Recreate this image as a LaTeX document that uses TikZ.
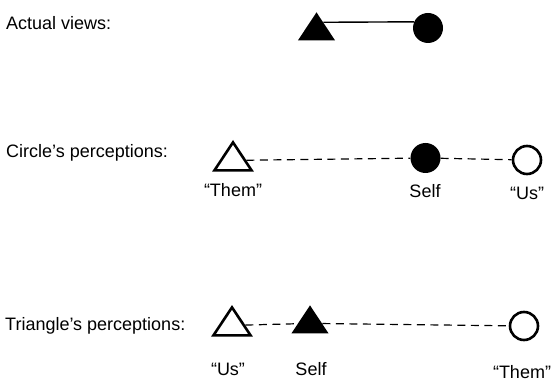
\documentclass[tikz,border=0pt]{standalone}
\usepackage{fontspec}
\setmainfont{Liberation Sans}
\usetikzlibrary{shapes.geometric,calc}

\tikzset{
  tri/.style={isosceles triangle, shape border rotate=90,
    isosceles triangle apex angle=67, inner sep=0pt, minimum size=28pt, anchor=apex},
  fulltri/.style={tri, fill=black},
  hollowtri/.style={tri, draw=black, line width=2.6pt},
  dot/.style={circle, inner sep=0pt},
  fulldot/.style={dot, fill=black, minimum size=30pt},
  hollowdot/.style={dot, draw=black, line width=2.6pt, minimum size=28pt},
  rowlabel/.style={anchor=base west, inner sep=0pt},
  tag/.style={anchor=base, inner sep=0pt},
  dashline/.style={line width=1.2pt, dash pattern=on 8pt off 5.5pt}
}

\begin{document}
\begin{tikzpicture}[x=1pt,y=-1pt,font=\fontsize{18}{21}\selectfont]
\useasboundingbox (0,0) rectangle (554,379);
% actual views
\node[rowlabel] (avlab) at (6,30) {Actual views:};
\node[fulltri] (avtri) at (316.5,12) {};
\node[fulldot] (avdot) at (428,28) {};
\draw[line width=1.4pt] ($(avtri.apex)!0.36!(avtri.right corner)$) -- (avdot.156);
% circle's perceptions
\node[rowlabel] (cplab) at (6,158) {Circle's perceptions:};
\node[hollowtri] (cpthem) at (233,140) {};
\node[fulldot] (cpself) at (425.5,158) {};
\node[hollowdot] (cpus) at (527,160) {};
\draw[dashline] (cpthem) -- (cpself) -- (cpus);
\node[tag] (cpthemlab) at (233,197) {“Them”};
\node[tag] (cpselflab) at (425,198) {Self};
\node[tag] (cpuslab) at (527,200) {“Us”};
% triangle's perceptions
\node[rowlabel] (tplab) at (5,330) {Triangle's perceptions:};
\node[hollowtri] (tpus) at (232,305) {};
\node[fulltri] (tpself) at (310,305) {};
\node[hollowdot] (tpthem) at (524,326) {};
\draw[dashline] (tpus) -- (tpself) -- (tpthem);
\node[tag] (tpuslab) at (228,375) {“Us”};
\node[tag] (tpselflab) at (311,375) {Self};
\node[tag] (tpthemlab) at (522,378) {“Them”};
\end{tikzpicture}
\end{document}
